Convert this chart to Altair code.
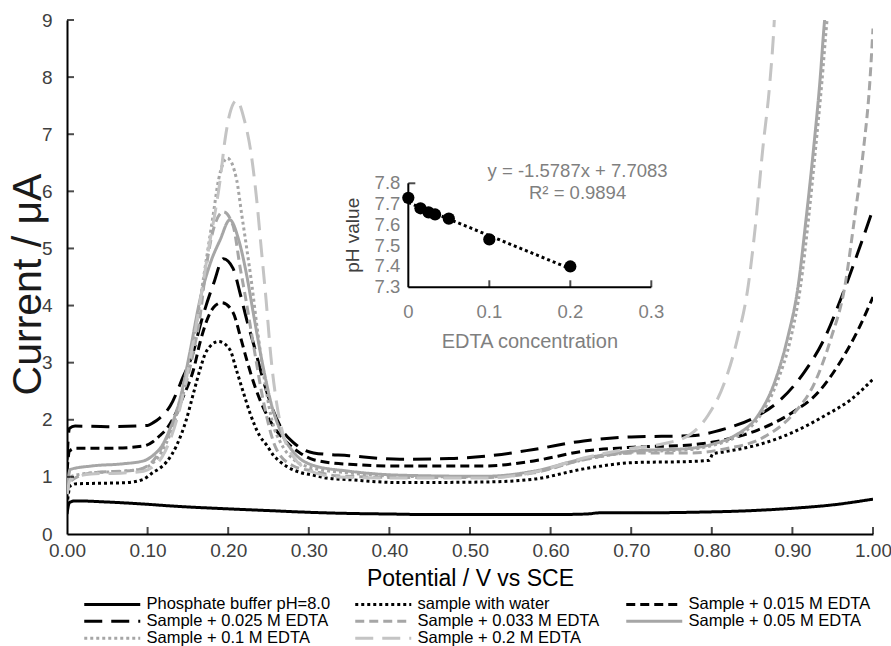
import altair as alt
import pandas as pd

# ---------------- main chart data ----------------
series_names = [
    "Phosphate buffer pH=8.0",
    "sample with water",
    "Sample + 0.015 M EDTA",
    "Sample + 0.025 M EDTA",
    "Sample + 0.033 M EDTA",
    "Sample + 0.05 M EDTA",
    "Sample + 0.1 M EDTA",
    "Sample + 0.2 M EDTA",
]
series_colors = ["#000000", "#000000", "#000000", "#000000",
                 "#A6A6A6", "#A6A6A6", "#A6A6A6", "#C4C4C4"]
series_dashes = [[1, 0], [3, 3], [9, 5], [18, 9],
                 [9, 5], [1, 0], [3, 3], [18, 9]]

ph_x = [0.0, 0.003, 0.01, 0.05, 0.10, 0.13, 0.20, 0.25, 0.30, 0.35, 0.40, 0.45, 0.50,
        0.55, 0.60, 0.645, 0.66, 0.70, 0.774, 0.85, 0.90, 0.95, 1.00]
ph_y = [0.35, 0.55, 0.58, 0.56, 0.52, 0.49, 0.44, 0.41, 0.38, 0.36, 0.35, 0.34, 0.34,
        0.34, 0.34, 0.35, 0.37, 0.37, 0.38, 0.41, 0.45, 0.51, 0.61]

w_x = [0.0, 0.004, 0.012, 0.05, 0.074, 0.095, 0.107, 0.115, 0.124, 0.136, 0.148, 0.157,
       0.165, 0.173, 0.188, 0.202, 0.210, 0.219, 0.227, 0.239, 0.248, 0.256, 0.264, 0.273,
       0.289, 0.306, 0.322, 0.351, 0.413, 0.517, 0.579, 0.641, 0.703, 0.774, 0.797, 0.801,
       0.816, 0.857, 0.899, 0.94, 0.973, 1.0]
w_y = [0.50, 0.84, 0.88, 0.89, 0.90, 0.96, 1.08, 1.15, 1.27, 1.55, 2.00, 2.47,
       2.88, 3.20, 3.37, 3.23, 2.88, 2.47, 2.12, 1.72, 1.55, 1.38, 1.27, 1.18,
       1.08, 1.03, 0.98, 0.95, 0.90, 0.91, 0.96, 1.14, 1.25, 1.27, 1.29, 1.40,
       1.44, 1.56, 1.77, 2.07, 2.36, 2.71]

s15_x = [0.0, 0.003, 0.01, 0.05, 0.095, 0.107, 0.115, 0.124, 0.132, 0.144, 0.157, 0.165,
         0.173, 0.182, 0.192, 0.206, 0.215, 0.223, 0.233, 0.244, 0.256, 0.273, 0.289, 0.306,
         0.35, 0.413, 0.517, 0.579, 0.641, 0.703, 0.774, 0.816, 0.857, 0.899, 0.932, 0.957,
         0.981, 1.0]
s15_y = [1.10, 1.45, 1.50, 1.50, 1.54, 1.62, 1.72, 1.85, 2.03, 2.40, 2.88, 3.35,
         3.72, 3.97, 4.05, 3.88, 3.46, 3.05, 2.59, 2.20, 1.89, 1.60, 1.42, 1.30,
         1.22, 1.19, 1.19, 1.28, 1.45, 1.52, 1.56, 1.65, 1.82, 2.12, 2.48, 2.96,
         3.56, 4.15]

s25_x = [0.0, 0.003, 0.01, 0.05, 0.10, 0.107, 0.115, 0.128, 0.144, 0.157, 0.165, 0.182,
         0.194, 0.206, 0.215, 0.223, 0.232, 0.245, 0.257, 0.268, 0.281, 0.306, 0.35, 0.413,
         0.475, 0.525, 0.579, 0.641, 0.70, 0.774, 0.816, 0.857, 0.886, 0.915, 0.94, 0.961,
         0.981, 1.0]
s25_y = [1.30, 1.85, 1.89, 1.88, 1.90, 1.95, 2.03, 2.24, 2.75, 3.20, 3.64, 4.39,
         4.82, 4.65, 4.20, 3.75, 3.30, 2.62, 2.12, 1.80, 1.60, 1.42, 1.37, 1.31,
         1.32, 1.37, 1.48, 1.63, 1.70, 1.72, 1.84, 2.07, 2.36, 2.84, 3.43, 4.15,
         4.92, 5.69]

s33_x = [0.0, 0.004, 0.03, 0.086, 0.105, 0.115, 0.125, 0.136, 0.147, 0.157, 0.165, 0.172,
         0.183, 0.194, 0.206, 0.215, 0.222, 0.231, 0.244, 0.26, 0.281, 0.306, 0.335, 0.413,
         0.517, 0.579, 0.641, 0.703, 0.774, 0.816, 0.865, 0.899, 0.928, 0.948, 0.965, 0.977,
         0.988, 0.996, 1.0]
s33_y = [0.70, 0.92, 1.07, 1.12, 1.25, 1.45, 1.72, 2.07, 2.60, 3.20, 3.80, 4.60,
         5.40, 5.64, 5.40, 4.65, 4.10, 3.34, 2.30, 1.48, 1.19, 1.10, 1.02, 0.99,
         0.99, 1.07, 1.30, 1.42, 1.42, 1.49, 1.70, 2.07, 2.66, 3.43, 4.33, 5.52,
         6.71, 7.90, 8.85]

s50_x = [0.0, 0.004, 0.03, 0.07, 0.095, 0.107, 0.118, 0.128, 0.14, 0.152, 0.165, 0.178,
         0.19, 0.202, 0.213, 0.222, 0.232, 0.243, 0.254, 0.265, 0.28, 0.306, 0.35, 0.413,
         0.517, 0.579, 0.641, 0.70, 0.774, 0.80, 0.828, 0.857, 0.878, 0.894, 0.907, 0.917,
         0.926, 0.934, 0.94, 0.943]
s50_y = [0.75, 1.13, 1.19, 1.23, 1.28, 1.38, 1.55, 1.85, 2.35, 3.15, 4.10, 4.75,
         5.15, 5.50, 5.15, 4.60, 3.80, 2.95, 2.25, 1.80, 1.45, 1.20, 1.10, 1.03,
         1.01, 1.10, 1.32, 1.45, 1.50, 1.57, 1.72, 2.07, 2.66, 3.43, 4.33, 5.52,
         6.71, 7.90, 9.00, 9.40]

s100_x = [0.0, 0.004, 0.03, 0.07, 0.095, 0.107, 0.118, 0.128, 0.14, 0.152, 0.162, 0.169,
          0.175, 0.1815, 0.188, 0.199, 0.2105, 0.2167, 0.223, 0.229, 0.236, 0.245, 0.255,
          0.265, 0.28, 0.306, 0.35, 0.413, 0.517, 0.579, 0.641, 0.70, 0.774, 0.80, 0.83,
          0.86, 0.881, 0.898, 0.91, 0.92, 0.9285, 0.9365, 0.943, 0.946]
s100_y = [0.70, 1.00, 1.07, 1.10, 1.15, 1.25, 1.45, 1.75, 2.30, 3.10, 3.80, 4.45,
          5.00, 5.60, 6.20, 6.58, 6.20, 5.60, 5.00, 4.40, 3.60, 2.70, 1.95,
          1.60, 1.32, 1.15, 1.07, 1.01, 1.00, 1.08, 1.30, 1.43, 1.48, 1.55, 1.70,
          2.07, 2.66, 3.43, 4.33, 5.52, 6.71, 7.90, 9.00, 9.40]

s200_x = [0.0, 0.004, 0.03, 0.07, 0.095, 0.107, 0.118, 0.128, 0.14, 0.152, 0.162, 0.17,
          0.177, 0.184, 0.19, 0.196, 0.202, 0.2105, 0.22, 0.228, 0.235, 0.241, 0.247,
          0.253, 0.26, 0.268, 0.281, 0.306, 0.335, 0.413, 0.517, 0.579, 0.641, 0.70,
          0.74, 0.774, 0.795, 0.816, 0.832, 0.845, 0.855, 0.863, 0.872, 0.877, 0.879]
s200_y = [0.70, 0.95, 1.05, 1.07, 1.10, 1.18, 1.35, 1.65, 2.20, 3.00, 3.80, 4.50,
          5.10, 5.65, 6.20, 6.90, 7.36, 7.59, 7.25, 6.70, 5.90, 5.00, 4.10,
          3.10, 2.30, 1.75, 1.35, 1.08, 1.00, 0.98, 0.98, 1.08, 1.33, 1.50,
          1.58, 1.75, 2.07, 2.66, 3.43, 4.33, 5.52, 6.71, 7.90, 8.85, 9.40]

x_ticks = [0.0, 0.1, 0.2, 0.3, 0.4, 0.5, 0.6, 0.7, 0.8, 0.9, 1.0]
y_ticks = [0, 1, 2, 3, 4, 5, 6, 7, 8, 9]

# ---------------- inset data ----------------
edta_conc = [0.0, 0.015, 0.025, 0.033, 0.05, 0.1, 0.2]
ph_value = [7.73, 7.68, 7.66, 7.65, 7.63, 7.53, 7.40]
inset_x_ticks = [0.0, 0.1, 0.2, 0.3]
inset_x_labels = ["0", "0.1", "0.2", "0.3"]
inset_y_ticks = [7.3, 7.4, 7.5, 7.6, 7.7, 7.8]
eq_text = "y = -1.5787x + 7.7083"
r2_text = "R\u00b2 = 0.9894"

FONT = "Liberation Sans"

# ---------------- build tables ----------------
all_x = [ph_x, w_x, s15_x, s25_x, s33_x, s50_x, s100_x, s200_x]
all_y = [ph_y, w_y, s15_y, s25_y, s33_y, s50_y, s100_y, s200_y]
rows = []
for name, xs, ys in zip(series_names, all_x, all_y):
    for xv, yv in zip(xs, ys):
        rows.append({"series": name, "potential": xv, "current": yv})
df = pd.DataFrame(rows)

X_MAIN = alt.Scale(domain=[0, 1], nice=False, zero=False)
Y_MAIN = alt.Scale(domain=[0, 9], nice=False, zero=False)
# inset placed inside the plot through its own independent scales
X_IN = alt.Scale(domain=[-0.4214, 0.5737], nice=False, zero=False)
Y_IN = alt.Scale(domain=[6.114, 8.585], nice=False, zero=False)

legend = alt.Legend(
    title=None, orient="none", legendX=16, legendY=576, columns=3, direction="horizontal",
    gridAlign="all", columnPadding=18, rowPadding=0,
    symbolType="M-5.6,0H5.6", symbolSize=100, symbolStrokeWidth=3,
    symbolOffset=21, labelOffset=26, labelFontSize=16.5, labelFont=FONT,
    labelColor="black", labelLimit=400,
)

lines = alt.Chart(df).mark_line(interpolate="monotone", clip=True, strokeWidth=3).encode(
    x=alt.X("potential:Q", scale=X_MAIN, axis=alt.Axis(
        values=x_ticks, format=".2f", title="Potential / V vs SCE",
        labelFontSize=19, labelColor="#404040", labelPadding=7, labelFlush=False,
        labelOverlap=False, ticks=False, tickSize=0, domainColor="black", domainWidth=2,
        grid=False, titleFontSize=23, titleColor="black", titleFontWeight="normal",
        titleX=403, titleY=44, titleBaseline="middle")),
    y=alt.Y("current:Q", scale=Y_MAIN, axis=alt.Axis(
        values=y_ticks, format="d", title="Current / \u03bcA",
        labelFontSize=19, labelColor="#404040", labelPadding=15, labelFlush=False,
        ticks=False, tickSize=0, domainColor="black", domainWidth=2, grid=False,
        titleFontSize=41, titleColor="#1a1a1a", titleFontWeight="normal",
        titleX=-39, titleY=264, titleBaseline="middle", titleAngle=270)),
    color=alt.Color("series:N", scale=alt.Scale(domain=series_names, range=series_colors),
                    legend=legend),
    strokeDash=alt.StrokeDash("series:N", scale=alt.Scale(domain=series_names, range=series_dashes),
                              legend=legend),
)

# inside tick marks of the main axes
xt_df = pd.DataFrame({"v": [t for t in x_ticks if t > 0], "base": 0.0})
yt_df = pd.DataFrame({"v": [t for t in y_ticks if t > 0], "base": 0.0})
main_xticks = alt.Chart(xt_df).mark_tick(orient="vertical", size=7, thickness=2,
                                         color="black", yOffset=-3.5).encode(
    x=alt.X("v:Q", scale=X_MAIN, axis=None), y=alt.Y("base:Q", scale=Y_MAIN, axis=None))
main_yticks = alt.Chart(yt_df).mark_tick(orient="horizontal", size=7, thickness=2,
                                         color="black", xOffset=3.5).encode(
    x=alt.X("base:Q", scale=X_MAIN, axis=None), y=alt.Y("v:Q", scale=Y_MAIN, axis=None))

# ---------------- inset ----------------
inset_df = pd.DataFrame({"conc": edta_conc, "ph": ph_value})

trend = alt.Chart(inset_df).transform_regression(
    "conc", "ph", extent=[min(edta_conc), max(edta_conc)]
).mark_line(color="black", strokeWidth=3, strokeDash=[3, 3]).encode(
    x=alt.X("conc:Q", scale=X_IN, axis=None), y=alt.Y("ph:Q", scale=Y_IN, axis=None))

points = alt.Chart(inset_df).mark_circle(size=150, color="black", opacity=1).encode(
    x=alt.X("conc:Q", scale=X_IN, axis=None), y=alt.Y("ph:Q", scale=Y_IN, axis=None))

ix_axis_df = pd.DataFrame({"x": [min(inset_x_ticks)], "x2": [max(inset_x_ticks)],
                           "y": [min(inset_y_ticks)]})
iy_axis_df = pd.DataFrame({"x": [min(inset_x_ticks)], "y": [min(inset_y_ticks)],
                           "y2": [max(inset_y_ticks)]})
inset_xdomain = alt.Chart(ix_axis_df).mark_rule(color="black", strokeWidth=2).encode(
    x=alt.X("x:Q", scale=X_IN, axis=None), x2="x2:Q", y=alt.Y("y:Q", scale=Y_IN, axis=None))
inset_ydomain = alt.Chart(iy_axis_df).mark_rule(color="black", strokeWidth=2).encode(
    x=alt.X("x:Q", scale=X_IN, axis=None), y=alt.Y("y:Q", scale=Y_IN, axis=None), y2="y2:Q")

ixt_df = pd.DataFrame({"v": [t for t in inset_x_ticks if t > 0], "base": min(inset_y_ticks)})
inset_xticks = alt.Chart(ixt_df).mark_tick(orient="vertical", size=7, thickness=2,
                                           color="black", yOffset=-3.5).encode(
    x=alt.X("v:Q", scale=X_IN, axis=None), y=alt.Y("base:Q", scale=Y_IN, axis=None))
iyt_df = pd.DataFrame({"v": [max(inset_y_ticks)], "base": min(inset_x_ticks)})
inset_yticks = alt.Chart(iyt_df).mark_tick(orient="horizontal", size=7, thickness=2,
                                           color="black", xOffset=3.5).encode(
    x=alt.X("base:Q", scale=X_IN, axis=None), y=alt.Y("v:Q", scale=Y_IN, axis=None))

ixl_df = pd.DataFrame({"v": inset_x_ticks, "t": inset_x_labels, "base": min(inset_y_ticks)})
inset_xlabels = alt.Chart(ixl_df).mark_text(dy=25, baseline="middle", align="center",
                                            fontSize=18.5, font=FONT, color="#7f7f7f").encode(
    x=alt.X("v:Q", scale=X_IN, axis=None), y=alt.Y("base:Q", scale=Y_IN, axis=None), text="t:N")
iyl_df = pd.DataFrame({"v": inset_y_ticks, "t": [f"{t:.1f}" for t in inset_y_ticks],
                       "base": min(inset_x_ticks)})
inset_ylabels = alt.Chart(iyl_df).mark_text(dx=-8, baseline="middle", align="right",
                                            fontSize=18.5, font=FONT, color="#7f7f7f").encode(
    x=alt.X("base:Q", scale=X_IN, axis=None), y=alt.Y("v:Q", scale=Y_IN, axis=None), text="t:N")

ititle_df = pd.DataFrame({"x": [sum(inset_x_ticks[::3]) / 2], "y": [min(inset_y_ticks)],
                          "t": ["EDTA concentration"]})
inset_xtitle = alt.Chart(ititle_df).mark_text(dy=55, baseline="middle", align="center",
                                              fontSize=20, font=FONT, color="#7f7f7f").encode(
    x=alt.X("x:Q", scale=X_IN, axis=None), y=alt.Y("y:Q", scale=Y_IN, axis=None), text="t:N")
iytitle_df = pd.DataFrame({"x": [min(inset_x_ticks)],
                           "y": [(min(inset_y_ticks) + max(inset_y_ticks)) / 2],
                           "t": ["pH value"]})
# with angle 270 the text frame is rotated: a negative dy moves it to the left
inset_ytitle = alt.Chart(iytitle_df).mark_text(dy=-55, angle=270, baseline="middle",
                                               align="center", fontSize=19, font=FONT,
                                               color="#404040").encode(
    x=alt.X("x:Q", scale=X_IN, axis=None), y=alt.Y("y:Q", scale=Y_IN, axis=None), text="t:N")

eq_df = pd.DataFrame({"x": [0.209], "y": [max(inset_y_ticks)], "t": [eq_text]})
r2_df = pd.DataFrame({"x": [0.209], "y": [max(inset_y_ticks)], "t": [r2_text]})
eq_label = alt.Chart(eq_df).mark_text(dy=-12, baseline="middle", align="center",
                                      fontSize=18.5, font=FONT, color="#7f7f7f").encode(
    x=alt.X("x:Q", scale=X_IN, axis=None), y=alt.Y("y:Q", scale=Y_IN, axis=None), text="t:N")
r2_label = alt.Chart(r2_df).mark_text(dy=10, baseline="middle", align="center",
                                      fontSize=18.5, font=FONT, color="#7f7f7f").encode(
    x=alt.X("x:Q", scale=X_IN, axis=None), y=alt.Y("y:Q", scale=Y_IN, axis=None), text="t:N")

chart = alt.layer(
    lines, main_xticks, main_yticks,
    inset_xdomain, inset_ydomain, inset_xticks, inset_yticks,
    trend, points, inset_xlabels, inset_ylabels, inset_xtitle, inset_ytitle,
    eq_label, r2_label,
).resolve_scale(
    x="independent", y="independent"
).properties(
    width=806, height=514,
    autosize=alt.AutoSizeParams(type="none"),
    padding={"left": 67, "top": 20, "right": 18, "bottom": 112},
).configure(
    font=FONT,
).configure_view(
    stroke=None,
)

chart.save("out.html", embed_options={"renderer": "svg", "actions": False})
